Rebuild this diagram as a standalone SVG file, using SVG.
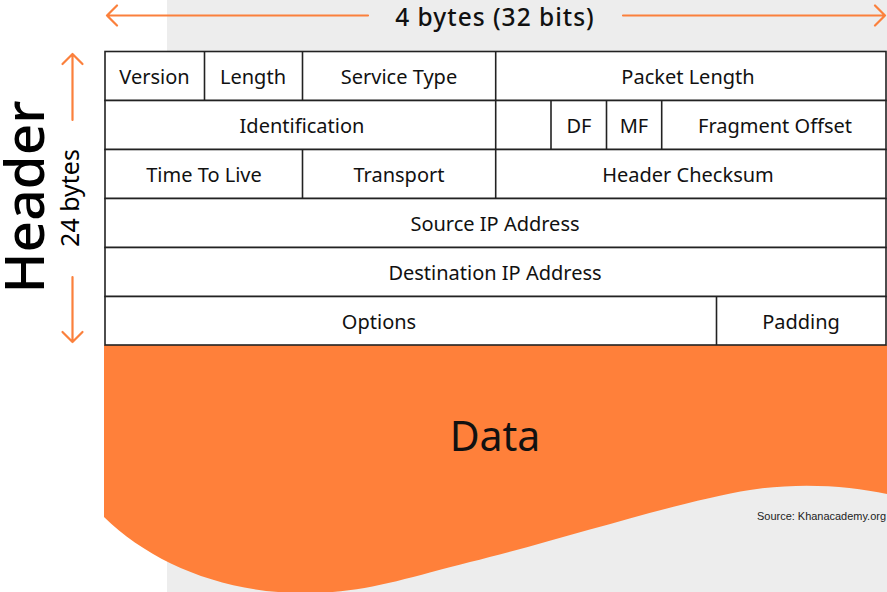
<svg xmlns="http://www.w3.org/2000/svg" width="887" height="592" viewBox="0 0 887 592">
<defs>
<style>
.cell{fill:#ffffff;stroke:#222222;stroke-width:1.6}
.div{stroke:#222222;stroke-width:1.6}
.t{font-family:"Noto Sans","Open Sans",sans-serif;font-size:20px;fill:#111111;text-anchor:middle}
.arr{stroke:#fb803c;stroke-width:2.2;fill:none;stroke-linecap:round;stroke-linejoin:round}
</style>
</defs>
<rect x="0" y="0" width="887" height="592" fill="#ffffff"/>
<rect x="167" y="0" width="720" height="592" fill="#ededed"/>

<g id="data">
<path d="M104,345 H887 V494 C850,486 800,482 750,490 C680,501 560,540 470,562 C400,580 360,594 300,593 C220,592 150,562 104,517 Z" fill="#ff803a"/>
<text x="495" y="451" style="font-family:'Noto Sans','Open Sans',sans-serif;font-size:41px;fill:#111;text-anchor:middle">Data</text>
</g>

<text x="886" y="520" textLength="129" lengthAdjust="spacingAndGlyphs" style="font-family:'Liberation Sans','Noto Sans',sans-serif;font-size:10.5px;fill:#222;text-anchor:end">Source: Khanacademy.org</text>

<g id="connectors">
<path class="arr" d="M368,15.5 H107 M117,5.5 L107,15.5 L117,25.5"/>
<path class="arr" d="M623,15.5 H885 M875,5.5 L885,15.5 L875,25.5"/>
<path class="arr" d="M72.5,120 V54 M62.5,64 L72.5,54 L82.5,64"/>
<path class="arr" d="M72.5,277 V342 M62.5,332 L72.5,342 L82.5,332"/>
</g>

<g id="labels">
<text x="495" y="25.5" style="font-family:'Noto Sans','Open Sans',sans-serif;font-size:24.5px;font-weight:500;letter-spacing:1px;fill:#111;text-anchor:middle">4 bytes (32 bits)</text>
<text transform="translate(44,197) rotate(-90)" style="font-family:'Noto Sans','Open Sans',sans-serif;font-size:55px;font-weight:500;fill:#000;text-anchor:middle">Header</text>
<text transform="translate(79,198) rotate(-90)" style="font-family:'Noto Sans','Open Sans',sans-serif;font-size:25px;fill:#000;text-anchor:middle">24 bytes</text>
</g>

<g id="row1">
<rect class="cell" x="105" y="51.5" width="781" height="49"/>
<line class="div" x1="204.5" y1="51.5" x2="204.5" y2="100.5"/>
<line class="div" x1="302.5" y1="51.5" x2="302.5" y2="100.5"/>
<line class="div" x1="495.7" y1="51.5" x2="495.7" y2="100.5"/>
<text class="t" x="154.5" y="84">Version</text>
<text class="t" x="253" y="84">Length</text>
<text class="t" x="399" y="84">Service Type</text>
<text class="t" x="688" y="84">Packet Length</text>
</g>

<g id="row2">
<rect class="cell" x="105" y="100.5" width="781" height="49"/>
<line class="div" x1="495.7" y1="100.5" x2="495.7" y2="149.5"/>
<line class="div" x1="551" y1="100.5" x2="551" y2="149.5"/>
<line class="div" x1="606.5" y1="100.5" x2="606.5" y2="149.5"/>
<line class="div" x1="661.7" y1="100.5" x2="661.7" y2="149.5"/>
<text class="t" x="302" y="133">Identification</text>
<text class="t" x="579" y="133">DF</text>
<text class="t" x="634" y="133">MF</text>
<text class="t" x="775" y="133">Fragment Offset</text>
</g>

<g id="row3">
<rect class="cell" x="105" y="149.5" width="781" height="49"/>
<line class="div" x1="302.5" y1="149.5" x2="302.5" y2="198.5"/>
<line class="div" x1="495.7" y1="149.5" x2="495.7" y2="198.5"/>
<text class="t" x="204" y="182">Time To Live</text>
<text class="t" x="399" y="182">Transport</text>
<text class="t" x="688" y="182">Header Checksum</text>
</g>

<g id="row4">
<rect class="cell" x="105" y="198.5" width="781" height="49"/>
<text class="t" x="495" y="231">Source IP Address</text>
</g>

<g id="row5">
<rect class="cell" x="105" y="247.5" width="781" height="49"/>
<text class="t" x="495" y="280">Destination IP Address</text>
</g>

<g id="row6">
<rect class="cell" x="105" y="296.5" width="781" height="48.5"/>
<line class="div" x1="716.5" y1="296.5" x2="716.5" y2="345"/>
<text class="t" x="379" y="329">Options</text>
<text class="t" x="801" y="329">Padding</text>
</g>
</svg>
